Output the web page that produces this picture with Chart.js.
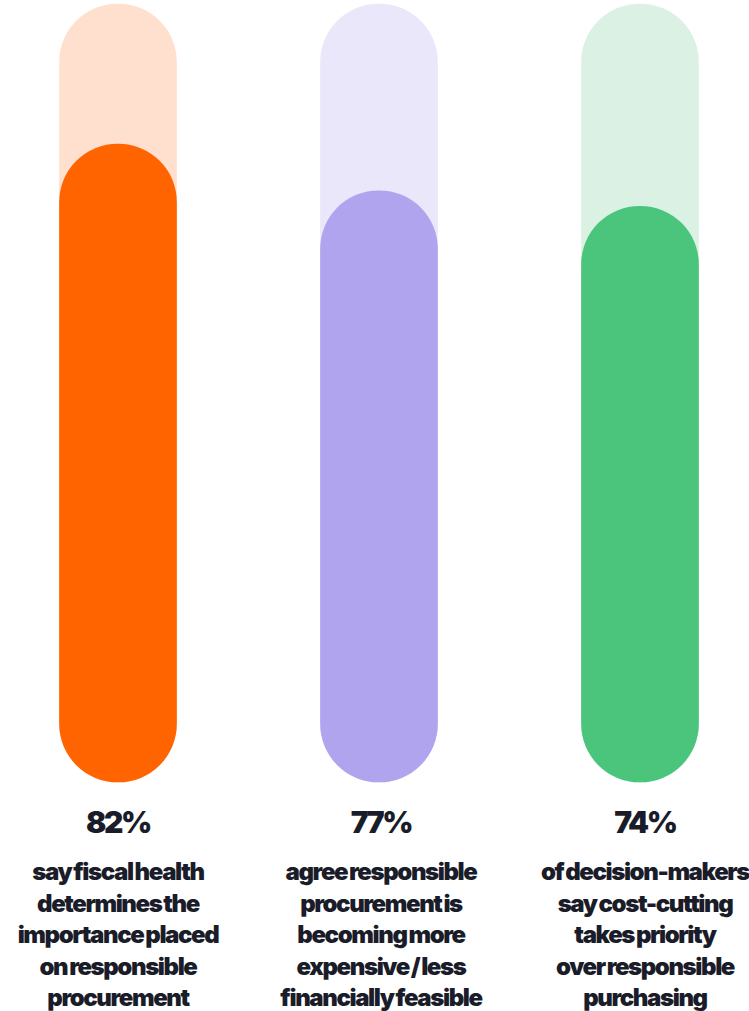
<!DOCTYPE html>
<html>
<head>
<meta charset="utf-8">
<script src="https://cdn.jsdelivr.net/npm/chart.js@4"></script>
<style>
    body { margin: 0; background: #ffffff; }
    #wrap { position: relative; width: 749px; height: 1011px; overflow: hidden; font-family: Inter, "Noto Sans", sans-serif; color: #1a1d29; }
    #chartBox { position: absolute; left: 0; top: 0; width: 749px; height: 790px; }
    .pct { position: absolute; top: 807px; width: 240px; text-align: center; font-size: 30px; line-height: 30px; font-weight: 900; letter-spacing: -2.4px; }
    .desc { position: absolute; top: 856px; width: 270px; text-align: center; font-size: 24px; line-height: 31.5px; font-weight: 900; letter-spacing: -1.4px; word-spacing: -1.5px; }
</style>
</head>
<body>
<div id="wrap">
    <div id="chartBox"><canvas id="pillChart"></canvas></div>
</div>
<script>
// values printed under each bar
const shares = [82, 77, 74];
// bar heights as drawn in the picture (purple bar sits a bit lower than its label)
const barLevels = [82, 76, 74];
const fullLevels = [100, 100, 100];

const categories = [
    ['say fiscal health', 'determines the', 'importance placed', 'on responsible', 'procurement'],
    ['agree responsible', 'procurement is', 'becoming more', 'expensive / less', 'financially feasible'],
    ['of decision-makers', 'say cost-cutting', 'takes priority', 'over responsible', 'purchasing']
];

const strongColors = ['#ff6400', '#b1a4ee', '#4bc47c'];
const paleColors = ['#ffe0ce', '#eae7fa', '#daf1e3'];

// text column centres (the third column sits a touch right of its bar)
const textCenters = [118, 381, 645];

const ctx = document.getElementById('pillChart');

const pillChart = new Chart(ctx, {
    type: 'bar',
    data: {
        labels: categories.map(c => c.join(' ')),
        datasets: [
            {
                label: 'share',
                data: barLevels,
                backgroundColor: strongColors,
                borderRadius: 58.5,
                borderSkipped: false,
                barThickness: 117,
                grouped: false,
                clip: false,
                order: 0
            },
            {
                label: 'full',
                data: fullLevels,
                backgroundColor: paleColors,
                borderRadius: 58.5,
                borderSkipped: false,
                barThickness: 117,
                grouped: false,
                clip: false,
                order: 1
            }
        ]
    },
    options: {
        responsive: true,
        maintainAspectRatio: false,
        animation: false,
        layout: {
            padding: { left: 118, right: 109, top: 4, bottom: 8 }
        },
        plugins: {
            legend: { display: false },
            tooltip: { enabled: false }
        },
        scales: {
            x: {
                display: false,
                offset: false,
                grid: { display: false }
            },
            y: {
                display: false,
                min: 0,
                max: 100,
                grid: { display: false }
            }
        }
    }
});

const wrap = document.getElementById('wrap');
for (let i = 0; i < categories.length; i++)
{
    const pct = document.createElement('div');
    pct.className = 'pct';
    pct.style.left = (textCenters[i] - 120) + 'px';
    pct.textContent = shares[i] + '%';
    wrap.appendChild(pct);

    const desc = document.createElement('div');
    desc.className = 'desc';
    desc.style.left = (textCenters[i] - 135) + 'px';
    desc.innerHTML = categories[i].join('<br>');
    wrap.appendChild(desc);
}
</script>
</body>
</html>
